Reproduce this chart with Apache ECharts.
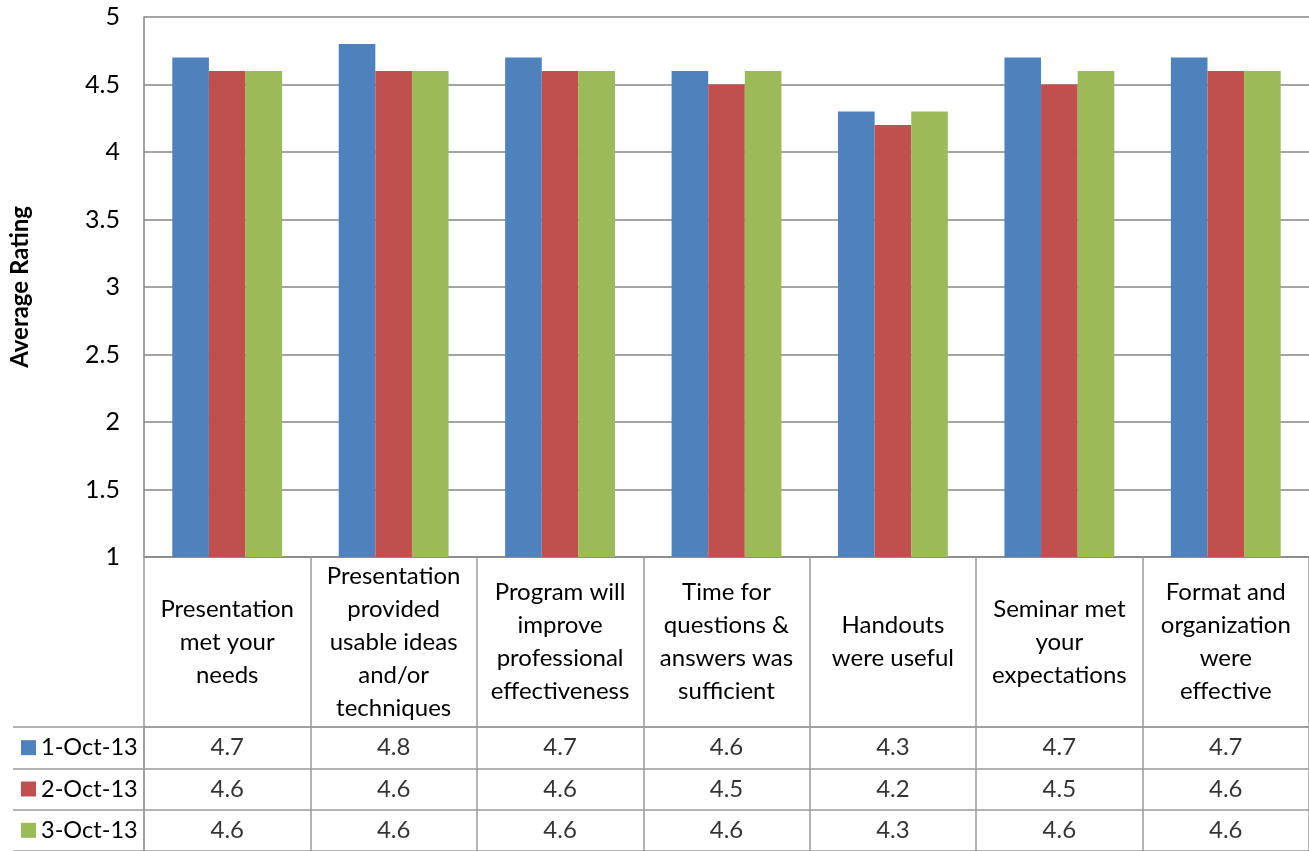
<!DOCTYPE html>
<html>
<head>
<meta charset="utf-8">
<script src="https://cdn.jsdelivr.net/npm/echarts@6/dist/echarts.min.js"></script>
<style>
html,body{margin:0;padding:0;background:#fff;}
#chart{width:1309px;height:851px;}
</style>
</head>
<body>
<div id="chart"></div>
<script>
const categories = [
  "Presentation\nmet your\nneeds",
  "Presentation\nprovided\nusable ideas\nand/or\ntechniques",
  "Program will\nimprove\nprofessional\neffectiveness",
  "Time for\nquestions &\nanswers was\nsufficient",
  "Handouts\nwere useful",
  "Seminar met\nyour\nexpectations",
  "Format and\norganization\nwere\neffective"
];
const seriesNames = ["1-Oct-13", "2-Oct-13", "3-Oct-13"];
const oct1 = [4.7, 4.8, 4.7, 4.6, 4.3, 4.7, 4.7];
const oct2 = [4.6, 4.6, 4.6, 4.5, 4.2, 4.5, 4.6];
const oct3 = [4.6, 4.6, 4.6, 4.6, 4.3, 4.6, 4.6];
const yTicks = [1, 1.5, 2, 2.5, 3, 3.5, 4, 4.5, 5];

const colors = ["#4F81BD", "#C0504D", "#9BBB59"];
const FONT = "Lato";
const FS = 24;
const seriesValues = [oct1, oct2, oct3];

const tableData = [];
seriesValues.forEach((vals, r) => {
  vals.forEach((v, i) => tableData.push([i, r, v]));
});

const chart = echarts.init(document.getElementById('chart'));
chart.setOption({
  animation: false,
  color: colors,
  textStyle: { fontFamily: FONT },
  grid: [
    { left: 144, right: 0, top: 17, height: 540 },
    { left: 144, right: 0, top: 727, height: 124 }
  ],
  xAxis: [
    {
      gridIndex: 0, type: 'category', data: categories,
      axisLine: { show: true, lineStyle: { color: '#868686', width: 1.5 } },
      axisTick: { show: true, length: 170, interval: 0, lineStyle: { color: '#9a9a9a', width: 1.5 } },
      axisLabel: { interval: 0, margin: 85, verticalAlign: 'middle', lineHeight: 33,
        fontSize: FS, color: '#000', fontFamily: FONT }
    },
    {
      gridIndex: 1, type: 'category', data: categories, position: 'top',
      axisLine: { show: true, lineStyle: { color: '#9a9a9a', width: 1.5 } },
      axisTick: { show: false },
      axisLabel: { show: false },
      splitLine: { show: true, interval: 0, lineStyle: { color: '#9a9a9a', width: 1.5 } }
    }
  ],
  yAxis: [
    {
      gridIndex: 0, type: 'value', min: 1, max: 5, interval: 0.5,
      name: 'Average Rating', nameLocation: 'middle', nameGap: 112, nameRotate: 90,
      nameTextStyle: { fontSize: 24, fontWeight: 'bold', color: '#000', fontFamily: FONT },
      axisLine: { show: true, lineStyle: { color: '#868686', width: 1.5 } },
      axisTick: { show: false },
      splitLine: { show: true, lineStyle: { color: '#868686', width: 1.5 } },
      axisLabel: { fontSize: 25, color: '#000', margin: 24, fontFamily: FONT,
        formatter: v => (yTicks.indexOf(v) >= 0 ? String(v) : '') }
    },
    {
      gridIndex: 1, type: 'category', data: seriesNames, inverse: true,
      axisLine: { show: true, lineStyle: { color: '#9a9a9a', width: 1.5 } },
      axisTick: { show: true, length: 131, lineStyle: { color: '#9a9a9a', width: 1.5 } },
      splitLine: { show: true, interval: 0, lineStyle: { color: '#9a9a9a', width: 1.5 } },
      axisLabel: {
        margin: 123, align: 'left', fontSize: 23.5, color: '#000', fontFamily: FONT,
        formatter: (v, i) => '{k' + i + '|}{t|' + v + '}',
        rich: {
          k0: { backgroundColor: colors[0], width: 15, height: 15 },
          k1: { backgroundColor: colors[1], width: 15, height: 15 },
          k2: { backgroundColor: colors[2], width: 15, height: 15 },
          t: { fontSize: 23.5, color: '#000', fontFamily: FONT, padding: [0, 0, 0, 5] }
        }
      }
    },
    {
      gridIndex: 1, type: 'category', data: seriesNames, inverse: true, offset: 131,
      axisLine: { show: true, lineStyle: { color: '#9a9a9a', width: 1.5 } },
      axisTick: { show: false }, axisLabel: { show: false }, splitLine: { show: false }
    }
  ],
  series: [
    ...seriesValues.map((vals, k) => ({
      name: seriesNames[k], type: 'bar', xAxisIndex: 0, yAxisIndex: 0,
      data: vals, barGap: '0%', barCategoryGap: '34%',
      itemStyle: { color: colors[k] }
    })),
    {
      type: 'scatter', xAxisIndex: 1, yAxisIndex: 1, data: tableData,
      symbolSize: 1, itemStyle: { color: 'rgba(0,0,0,0)' }, silent: true,
      label: { show: true, position: 'inside', fontSize: FS, color: '#000', fontFamily: FONT,
        formatter: p => p.value[2].toFixed(1) }
    }
  ]
});
</script>
</body>
</html>
